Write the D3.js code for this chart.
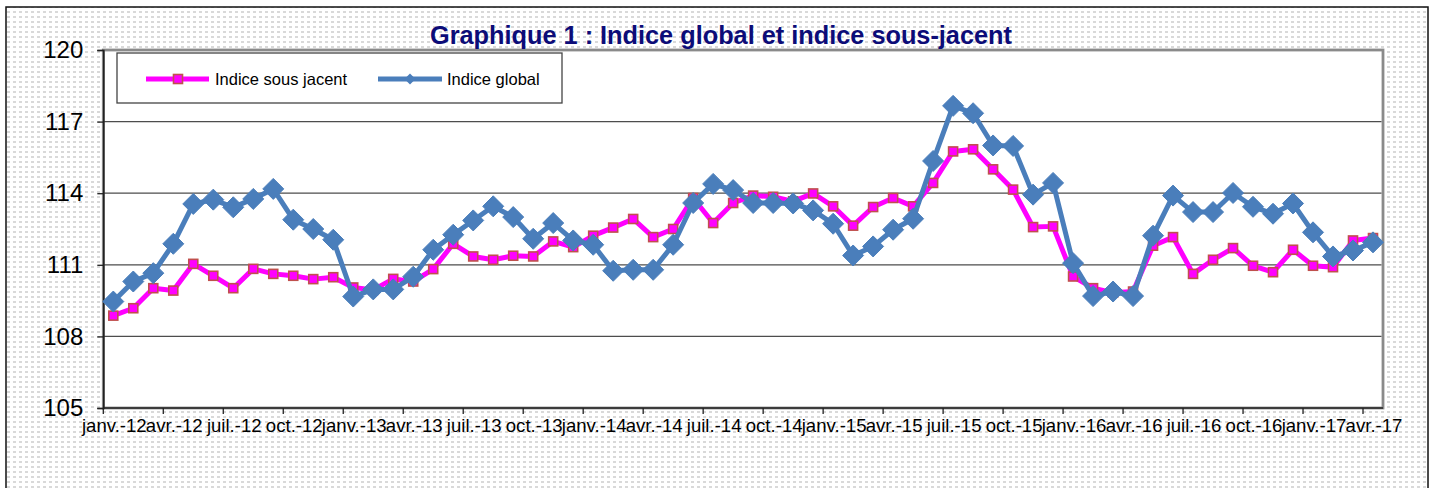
<!DOCTYPE html>
<html>
<head>
<meta charset="utf-8">
<script src="https://cdn.jsdelivr.net/npm/d3@7"></script>
<style>
  html, body { margin: 0; padding: 0; background: #fff; }
  svg { display: block; }
  text { font-family: "Liberation Sans", Arial, sans-serif; }
</style>
</head>
<body>
<svg id="chart" width="1431" height="488"></svg>
<script>
// ---- data ----
const monthNames = ["janv.", "févr.", "mars", "avr.", "mai", "juin", "juil.", "août", "sept.", "oct.", "nov.", "déc."];
const years = ["12", "13", "14", "15", "16", "17"];
const categories = [];
years.forEach(y => monthNames.forEach(m => categories.push(m + "-" + y)));
categories.splice(64); // janv.-12 ... avr.-17

const tickLabels = ["janv.-12","avr.-12","juil.-12","oct.-12","janv.-13","avr.-13","juil.-13","oct.-13",
  "janv.-14","avr.-14","juil.-14","oct.-14","janv.-15","avr.-15","juil.-15","oct.-15",
  "janv.-16","avr.-16","juil.-16","oct.-16","janv.-17","avr.-17"];

const yTicks = [105, 108, 111, 114, 117, 120];

const indiceSousJacent = [
  108.87, 109.18, 110.02, 109.92, 111.04, 110.54, 110.02, 110.83, 110.62, 110.54, 110.40, 110.48,
  110.05, 109.95, 110.41, 110.30, 110.82, 111.88, 111.35, 111.21, 111.38, 111.35, 111.98, 111.74,
  112.22, 112.56, 112.92, 112.16, 112.50, 113.80, 112.75, 113.59, 113.90, 113.85, 113.66, 113.99,
  113.45, 112.64, 113.42, 113.80, 113.45, 114.43, 115.75, 115.84, 115.00, 114.15, 112.58, 112.61,
  110.51, 110.02, 109.83, 109.88, 111.80, 112.16, 110.62, 111.21, 111.70, 110.96, 110.69, 111.63,
  110.96, 110.90, 112.02, 112.12
];

const indiceGlobal = [
  109.46, 110.30, 110.65, 111.88, 113.55, 113.73, 113.41, 113.76, 114.18, 112.89, 112.50, 112.05,
  109.67, 109.97, 109.97, 110.50, 111.63, 112.26, 112.86, 113.45, 113.00, 112.09, 112.75, 112.02,
  111.84, 110.75, 110.79, 110.79, 111.84, 113.59, 114.39, 114.13, 113.59, 113.59, 113.57, 113.28,
  112.72, 111.39, 111.77, 112.47, 112.93, 115.35, 117.66, 117.35, 116.00, 115.98, 113.94, 114.43,
  111.07, 109.69, 109.88, 109.69, 112.22, 113.90, 113.21, 113.21, 114.01, 113.43, 113.14, 113.57,
  112.36, 111.35, 111.60, 111.94
];

const seriesNames = ["Indice sous jacent", "Indice global"];
const title = "Graphique 1 : Indice global et indice sous-jacent";

// ---- drawing ----
const svg = d3.select("#chart");
const W = 1431, H = 488;
const plot = { left: 103.3, right: 1383, top: 50, bottom: 408 };

const defs = svg.append("defs");
const pat = defs.append("pattern").attr("id", "dots").attr("patternUnits", "userSpaceOnUse")
  .attr("width", 6).attr("height", 5);
pat.append("rect").attr("width", 6).attr("height", 5).attr("fill", "#ffffff");
pat.append("rect").attr("x", 1).attr("y", 1).attr("width", 3).attr("height", 2).attr("fill", "#d9d9d9");

// background
svg.append("rect").attr("x", 0).attr("y", 0).attr("width", W).attr("height", H).attr("fill", "#fff");
svg.append("rect").attr("x", 6).attr("y", 7).attr("width", 1422).attr("height", 500)
  .attr("fill", "url(#dots)").attr("stroke", "#111").attr("stroke-width", 1.5);

const x = d3.scaleBand().domain(categories).range([plot.left, plot.right]).padding(0);
const xc = c => x(c) + x.bandwidth() / 2;
const y = d3.scaleLinear().domain([105, 120]).range([plot.bottom, plot.top]);

// plot area
svg.append("rect").attr("x", plot.left).attr("y", plot.top)
  .attr("width", plot.right - plot.left).attr("height", plot.bottom - plot.top)
  .attr("fill", "#fff").attr("stroke", "#8a8a8a").attr("stroke-width", 2.8);

// gridlines
svg.append("g").selectAll("line").data(yTicks.filter(t => t > 105 && t < 120)).join("line")
  .attr("x1", plot.left).attr("x2", plot.right - 1.5)
  .attr("y1", d => y(d)).attr("y2", d => y(d))
  .attr("stroke", "#4d4d4d").attr("stroke-width", 1.3);

// y axis
const yAxis = d3.axisLeft(y).tickValues(yTicks).tickSize(6).tickPadding(14).tickFormat(d3.format("d"));
const gy = svg.append("g").attr("transform", `translate(${plot.left},0)`).call(yAxis);
gy.select(".domain").attr("stroke", "#222").attr("stroke-width", 1.6);
gy.selectAll(".tick line").attr("stroke", "#222").attr("stroke-width", 1.3);
gy.selectAll(".tick text").attr("font-size", 24).attr("fill", "#000")
  .attr("font-family", "'Liberation Sans', Arial, sans-serif");

// x axis: ticks at category boundaries every 3 months, labels at category centres
const tickCats = categories.filter((c, i) => i % 3 === 0);
const gx = svg.append("g");
gx.append("line").attr("x1", plot.left).attr("x2", plot.right)
  .attr("y1", plot.bottom).attr("y2", plot.bottom).attr("stroke", "#222").attr("stroke-width", 1.6);
gx.selectAll("line.tk").data(tickCats).join("line").attr("class", "tk")
  .attr("x1", d => x(d)).attr("x2", d => x(d))
  .attr("y1", plot.bottom).attr("y2", plot.bottom + 6)
  .attr("stroke", "#222").attr("stroke-width", 1.3);
gx.selectAll("text").data(tickLabels).join("text")
  .attr("x", (d, i) => xc(tickCats[i]) + 1)
  .attr("y", 432)
  .attr("text-anchor", "middle")
  .attr("font-size", 18.6)
  .attr("fill", "#000")
  .text(d => d);

// lines
const line = vals => d3.line().x((d, i) => xc(categories[i])).y(d => y(d))(vals);

svg.append("path").attr("d", line(indiceSousJacent)).attr("fill", "none")
  .attr("stroke", "#ff00ff").attr("stroke-width", 5).attr("stroke-linejoin", "round");
svg.append("g").selectAll("rect").data(indiceSousJacent).join("rect")
  .attr("x", (d, i) => xc(categories[i]) - 4.5).attr("y", d => y(d) - 4.5)
  .attr("width", 9).attr("height", 9)
  .attr("fill", "#ff00ff").attr("stroke", "#c0504d").attr("stroke-width", 1.6);

svg.append("path").attr("d", line(indiceGlobal)).attr("fill", "none")
  .attr("stroke", "#4a7ebb").attr("stroke-width", 5).attr("stroke-linejoin", "round");
const diamond = (cx, cy, r) => `M${cx},${cy - r}L${cx + r},${cy}L${cx},${cy + r}L${cx - r},${cy}Z`;
svg.append("g").selectAll("path").data(indiceGlobal).join("path")
  .attr("d", (d, i) => diamond(xc(categories[i]), y(d), 10.5))
  .attr("fill", "#4a7ebb").attr("stroke", "#4a7ebb").attr("stroke-width", 1);

// legend
const lg = svg.append("g");
lg.append("rect").attr("x", 117).attr("y", 53).attr("width", 445).attr("height", 50)
  .attr("fill", "#fff").attr("stroke", "#444").attr("stroke-width", 1.3);
lg.append("line").attr("x1", 146).attr("x2", 209).attr("y1", 79).attr("y2", 79)
  .attr("stroke", "#ff00ff").attr("stroke-width", 5);
lg.append("rect").attr("x", 173.5).attr("y", 74.5).attr("width", 9).attr("height", 9)
  .attr("fill", "#ff00ff").attr("stroke", "#c0504d").attr("stroke-width", 1.6);
lg.append("text").attr("x", 215).attr("y", 85).attr("font-size", 16.5).attr("fill", "#000").text(seriesNames[0]);
lg.append("line").attr("x1", 378).attr("x2", 442).attr("y1", 79).attr("y2", 79)
  .attr("stroke", "#4a7ebb").attr("stroke-width", 5);
lg.append("path").attr("d", diamond(410, 79, 5.5)).attr("fill", "#4a7ebb");
lg.append("text").attr("x", 447).attr("y", 85).attr("font-size", 16.5).attr("fill", "#000").text(seriesNames[1]);

// title
svg.append("text").attr("x", 721).attr("y", 44).attr("text-anchor", "middle")
  .attr("font-size", 25.3).attr("font-weight", "bold").attr("fill", "#0c0c78").text(title);
</script>
</body>
</html>
